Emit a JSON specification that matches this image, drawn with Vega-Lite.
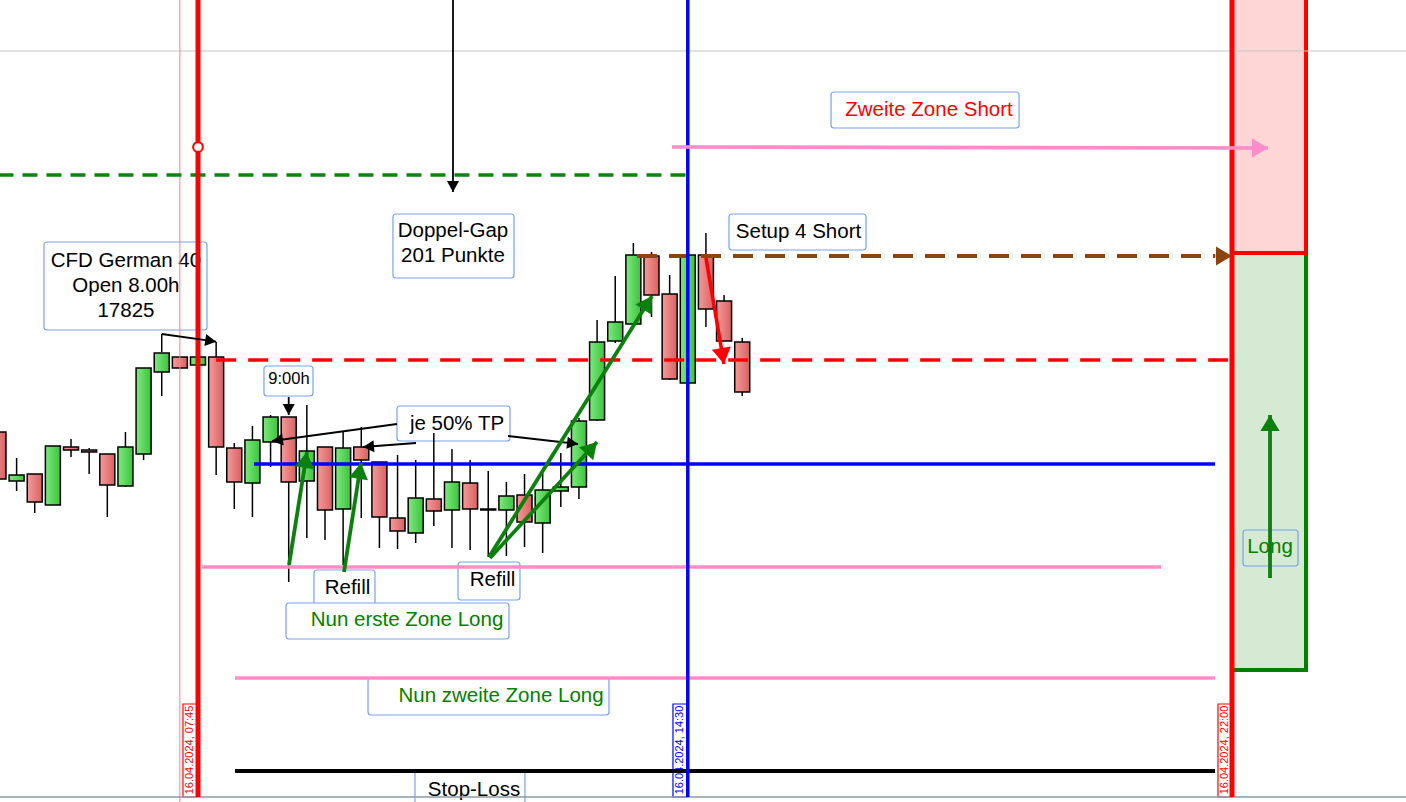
{
"$schema": "https://vega.github.io/schema/vega-lite/v6.json",
"width": 1406, "height": 802,
"autosize": {"type": "none"},
"padding": 0,
"background": "#ffffff",
"config": {"view": {"stroke": null}, "axis": {"disable": true}, "scale": {"continuousPadding": 0}},
"datasets": {
"candles": [
{"t":5.0,"o":17753,"h":17755,"l":17703,"c":17706},
{"t":5.25,"o":17704,"h":17727,"l":17694,"c":17710},
{"t":5.5,"o":17711,"h":17711,"l":17672,"c":17683},
{"t":5.75,"o":17680,"h":17739,"l":17680,"c":17739},
{"t":6.0,"o":17738,"h":17746,"l":17728,"c":17735},
{"t":6.25,"o":17735,"h":17737,"l":17711,"c":17733},
{"t":6.5,"o":17731,"h":17731,"l":17668,"c":17700},
{"t":6.75,"o":17699,"h":17753,"l":17698,"c":17738},
{"t":7.0,"o":17731,"h":17817,"l":17725,"c":17817},
{"t":7.25,"o":17813,"h":17832,"l":17789,"c":17832},
{"t":7.5,"o":17828,"h":17828,"l":17817,"c":17817},
{"t":7.75,"o":17820,"h":17828,"l":17820,"c":17828},
{"t":8.0,"o":17828,"h":17828,"l":17710,"c":17738},
{"t":8.25,"o":17737,"h":17742,"l":17676,"c":17703},
{"t":8.5,"o":17702,"h":17759,"l":17668,"c":17745},
{"t":8.75,"o":17743,"h":17770,"l":17718,"c":17768},
{"t":9.0,"o":17768,"h":17768,"l":17603,"c":17703},
{"t":9.25,"o":17704,"h":17780,"l":17647,"c":17734},
{"t":9.5,"o":17738,"h":17738,"l":17645,"c":17675},
{"t":9.75,"o":17676,"h":17753,"l":17620,"c":17737},
{"t":10.0,"o":17738,"h":17758,"l":17667,"c":17725},
{"t":10.25,"o":17723,"h":17723,"l":17637,"c":17668},
{"t":10.5,"o":17667,"h":17730,"l":17636,"c":17654},
{"t":10.75,"o":17652,"h":17725,"l":17642,"c":17687},
{"t":11.0,"o":17686,"h":17752,"l":17659,"c":17674},
{"t":11.25,"o":17675,"h":17736,"l":17637,"c":17703},
{"t":11.5,"o":17702,"h":17725,"l":17635,"c":17676},
{"t":11.75,"o":17676,"h":17714,"l":17628,"c":17675},
{"t":12.0,"o":17675,"h":17703,"l":17629,"c":17689},
{"t":12.25,"o":17690,"h":17711,"l":17638,"c":17663},
{"t":12.5,"o":17662,"h":17712,"l":17632,"c":17695},
{"t":12.75,"o":17694,"h":17732,"l":17678,"c":17698},
{"t":13.0,"o":17698,"h":17767,"l":17686,"c":17764},
{"t":13.25,"o":17765,"h":17865,"l":17764,"c":17843},
{"t":13.5,"o":17844,"h":17909,"l":17842,"c":17863},
{"t":13.75,"o":17861,"h":17942,"l":17861,"c":17930},
{"t":14.0,"o":17929,"h":17933,"l":17868,"c":17890},
{"t":14.25,"o":17891,"h":17910,"l":17805,"c":17806},
{"t":14.5,"o":17802,"h":17930,"l":17802,"c":17930},
{"t":14.75,"o":17930,"h":17952,"l":17858,"c":17876},
{"t":15.0,"o":17884,"h":17890,"l":17844,"c":17844},
{"t":15.25,"o":17843,"h":17847,"l":17789,"c":17793}
],
"zones": [
{"t":22.0,"t2":23.02,"p":17932,"p2":17515,"kind":"g"},
{"t":22.0,"t2":23.02,"p":18190,"p2":17932,"kind":"r"}
],
"boxes": [
{"t":5.627,"t2":7.874,"p":17943,"p2":17855,"kind":"n"},
{"t":10.437,"t2":12.105,"p":17971,"p2":17907,"kind":"n"},
{"t":16.474,"t2":19.065,"p":18093,"p2":18057,"kind":"n"},
{"t":15.068,"t2":16.956,"p":17971,"p2":17935,"kind":"n"},
{"t":8.659,"t2":9.335,"p":17819,"p2":17789,"kind":"n"},
{"t":10.492,"t2":12.05,"p":17779,"p2":17744,"kind":"n"},
{"t":9.348,"t2":10.189,"p":17615,"p2":17578,"kind":"n"},
{"t":11.333,"t2":12.187,"p":17623,"p2":17585,"kind":"n"},
{"t":8.963,"t2":12.036,"p":17582,"p2":17546,"kind":"n"},
{"t":10.093,"t2":13.414,"p":17507,"p2":17470,"kind":"n"},
{"t":10.74,"t2":12.256,"p":17414,"p2":17370,"kind":"n"},
{"t":22.152,"t2":22.91,"p":17655,"p2":17619,"kind":"c"},
{"t":7.543,"t2":7.736,"p":17481,"p2":17388,"kind":"d","col":"r"},
{"t":14.296,"t2":14.489,"p":17481,"p2":17388,"kind":"d","col":"b"},
{"t":21.807,"t2":22.0,"p":17481,"p2":17388,"kind":"d","col":"r"}
],
"texts": [
{"t":6.757,"p":17924,"label":"CFD German 40\nOpen 8.00h\n17825","col":"k","grp":"main"},
{"t":11.264,"p":17954,"label":"Doppel-Gap\n201 Punkte","col":"k","grp":"main"},
{"t":17.824,"p":18075,"label":"Zweite Zone Short","col":"r","grp":"main"},
{"t":16.026,"p":17953,"label":"Setup 4 Short","col":"k","grp":"main"},
{"t":11.319,"p":17761,"label":"je 50% TP","col":"k","grp":"main"},
{"t":9.81,"p":17597,"label":"Refill","col":"k","grp":"main"},
{"t":11.809,"p":17605,"label":"Refill","col":"k","grp":"main"},
{"t":10.63,"p":17565,"label":"Nun erste Zone Long","col":"g","grp":"main"},
{"t":11.926,"p":17489,"label":"Nun zweite Zone Long","col":"g","grp":"main"},
{"t":11.554,"p":17395,"label":"Stop-Loss","col":"k","grp":"main"},
{"t":22.524,"p":17638,"label":"Long","col":"g","grp":"main"},
{"t":9.004,"p":17806,"label":"9:00h","col":"k","grp":"small"},
{"t":7.639,"p":17435,"label":"16.04.2024, 07:45","col":"r","grp":"date"},
{"t":14.392,"p":17435,"label":"16.04.2024, 14:30","col":"b","grp":"date"},
{"t":21.903,"p":17435,"label":"16.04.2024, 22:00","col":"r","grp":"date"}
],
"lines": [
{"t":5.0,"p":18134,"t2":24.5,"p2":18134,"kind":"gray"},
{"t":7.5,"p":18190,"t2":7.5,"p2":17380,"kind":"vPink"},
{"t":5.0,"p":17388,"t2":24.5,"p2":17388,"kind":"bottom"},
{"t":5.0,"p":18010,"t2":14.5,"p2":18010,"kind":"greenDash"},
{"t":13.8,"p":17929,"t2":21.77,"p2":17929,"kind":"brownDash"},
{"t":8.0,"p":17825,"t2":21.945,"p2":17825,"kind":"redDash"},
{"t":8.522,"p":17721,"t2":21.766,"p2":17721,"kind":"blue"},
{"t":7.805,"p":17618,"t2":21.022,"p2":17618,"kind":"pink"},
{"t":8.26,"p":17507,"t2":21.766,"p2":17507,"kind":"pink"},
{"t":8.26,"p":17414,"t2":21.766,"p2":17414,"kind":"black"},
{"t":7.25,"p":17833,"t2":7.25,"p2":17851,"kind":"blackThin"},
{"t":8.0,"p":17843,"t2":8.0,"p2":17828,"kind":"blackThin"},
{"t":7.75,"p":18190,"t2":7.75,"p2":17388,"kind":"vRed"},
{"t":22.0,"p":18190,"t2":22.0,"p2":17388,"kind":"vRed"},
{"t":14.5,"p":18190,"t2":14.5,"p2":17388,"kind":"vBlue"}
],
"arrows": [
{"t":11.264,"p":18190,"t2":11.264,"p2":17993,"a":180,"kind":"black"},
{"t":7.25,"p":17851,"t2":8.0,"p2":17843.3,"a":98.4,"kind":"black"},
{"t":9.0,"p":17788,"t2":9.0,"p2":17770,"a":180,"kind":"black"},
{"t":10.492,"p":17761,"t2":8.77,"p2":17744,"a":262.3,"kind":"black"},
{"t":10.754,"p":17742,"t2":10.024,"p2":17738,"a":265.7,"kind":"black"},
{"t":12.022,"p":17749,"t2":12.987,"p2":17741,"a":96.5,"kind":"black"},
{"t":9.004,"p":17620,"t2":9.252,"p2":17733,"a":9.05,"kind":"green"},
{"t":9.762,"p":17613,"t2":9.996,"p2":17722,"a":8.9,"kind":"green"},
{"t":11.76,"p":17628,"t2":14.007,"p2":17889,"a":32.0,"kind":"green"},
{"t":11.774,"p":17627,"t2":13.249,"p2":17743,"a":42.7,"kind":"green"},
{"t":22.524,"p":17607,"t2":22.524,"p2":17770,"a":0,"kind":"green"},
{"t":14.751,"p":17927,"t2":14.999,"p2":17821,"a":170.4,"kind":"red"},
{"t":14.282,"p":18038,"t2":22.496,"p2":18037,"a":90,"kind":"pink"},
{"t":22.0,"p":17929,"t2":22.0,"p2":17929,"a":90,"kind":"brown"}
]
},
"encoding": {
"x": {"field": "t", "type": "quantitative", "scale": {"domain": [5.0212, 24.398], "nice": false, "zero": false, "padding": 0}, "axis": null},
"y": {"field": "p", "type": "quantitative", "scale": {"domain": [17383, 18185], "nice": false, "zero": false, "padding": 0}, "axis": null}
},
"layer": [
{"data": {"name": "zones"}, "transform": [{"filter": "datum.kind == 'g'"}],
 "mark": {"type": "rect", "fill": "#d5e9d3", "stroke": "#008000", "strokeWidth": 4},
 "encoding": {"x2": {"field": "t2"}, "y2": {"field": "p2"}}},
{"data": {"name": "zones"}, "transform": [{"filter": "datum.kind == 'r'"}],
 "mark": {"type": "rect", "fill": "#ffd6d6", "stroke": "#ff0000", "strokeWidth": 4},
 "encoding": {"x2": {"field": "t2"}, "y2": {"field": "p2"}}},
{"data": {"name": "boxes"}, "transform": [{"filter": "datum.kind == 'n'"}],
 "mark": {"type": "rect", "fill": "#ffffff", "stroke": "#7aa2ee", "strokeWidth": 1.2, "cornerRadius": 3},
 "encoding": {"x2": {"field": "t2"}, "y2": {"field": "p2"}}},
{"data": {"name": "boxes"}, "transform": [{"filter": "datum.kind == 'c'"}],
 "mark": {"type": "rect", "fill": null, "fillOpacity": 0, "stroke": "#7aa2ee", "strokeWidth": 1.2, "cornerRadius": 3},
 "encoding": {"x2": {"field": "t2"}, "y2": {"field": "p2"}}},
{"data": {"name": "boxes"}, "transform": [{"filter": "datum.kind == 'd' && datum.col == 'r'"}],
 "mark": {"type": "rect", "fill": "#ffffff", "stroke": "#ff0000", "strokeWidth": 1.2},
 "encoding": {"x2": {"field": "t2"}, "y2": {"field": "p2"}}},
{"data": {"name": "boxes"}, "transform": [{"filter": "datum.kind == 'd' && datum.col == 'b'"}],
 "mark": {"type": "rect", "fill": "#ffffff", "stroke": "#0000ff", "strokeWidth": 1.2},
 "encoding": {"x2": {"field": "t2"}, "y2": {"field": "p2"}}},
{"data": {"name": "texts"}, "transform": [{"filter": "datum.grp == 'main' && datum.col == 'k'"}],
 "mark": {"type": "text", "font": "Liberation Sans", "fontSize": 20.5, "lineBreak": "\n", "lineHeight": 25, "align": "center", "baseline": "middle", "color": "#000000"},
 "encoding": {"text": {"field": "label"}}},
{"data": {"name": "texts"}, "transform": [{"filter": "datum.grp == 'main' && datum.col == 'g'"}],
 "mark": {"type": "text", "font": "Liberation Sans", "fontSize": 20.5, "align": "center", "baseline": "middle", "color": "#008000"},
 "encoding": {"text": {"field": "label"}}},
{"data": {"name": "texts"}, "transform": [{"filter": "datum.grp == 'main' && datum.col == 'r'"}],
 "mark": {"type": "text", "font": "Liberation Sans", "fontSize": 20.5, "align": "center", "baseline": "middle", "color": "#ff0000"},
 "encoding": {"text": {"field": "label"}}},
{"data": {"name": "texts"}, "transform": [{"filter": "datum.grp == 'small'"}],
 "mark": {"type": "text", "font": "Liberation Sans", "fontSize": 16.5, "align": "center", "baseline": "middle", "color": "#000000"},
 "encoding": {"text": {"field": "label"}}},
{"data": {"name": "texts"}, "transform": [{"filter": "datum.grp == 'date' && datum.col == 'r'"}],
 "mark": {"type": "text", "font": "Liberation Sans", "fontSize": 11, "angle": 270, "align": "center", "baseline": "middle", "color": "#ff0000"},
 "encoding": {"text": {"field": "label"}}},
{"data": {"name": "texts"}, "transform": [{"filter": "datum.grp == 'date' && datum.col == 'b'"}],
 "mark": {"type": "text", "font": "Liberation Sans", "fontSize": 11, "angle": 270, "align": "center", "baseline": "middle", "color": "#0000ff"},
 "encoding": {"text": {"field": "label"}}},
{"data": {"name": "candles"},
 "mark": {"type": "rule", "color": "#000000", "strokeWidth": 1.5},
 "encoding": {"y": {"field": "h", "type": "quantitative", "scale": {"domain": [17383, 18185], "nice": false, "zero": false, "padding": 0}, "axis": null}, "y2": {"field": "l"}}},
{"data": {"name": "candles"}, "transform": [{"filter": "datum.c >= datum.o"}],
 "mark": {"type": "bar", "size": 15, "stroke": "#000000", "strokeWidth": 1.5,
  "fill": {"gradient": "linear", "x1": 0, "y1": 0, "x2": 1, "y2": 0, "stops": [{"offset": 0, "color": "#7ee87e"}, {"offset": 1, "color": "#3cc43c"}]}},
 "encoding": {"y": {"field": "o", "type": "quantitative", "scale": {"domain": [17383, 18185], "nice": false, "zero": false, "padding": 0}, "axis": null}, "y2": {"field": "c"}}},
{"data": {"name": "candles"}, "transform": [{"filter": "datum.c < datum.o"}],
 "mark": {"type": "bar", "size": 15, "stroke": "#000000", "strokeWidth": 1.5,
  "fill": {"gradient": "linear", "x1": 0, "y1": 0, "x2": 1, "y2": 0, "stops": [{"offset": 0, "color": "#f59a9a"}, {"offset": 1, "color": "#d86262"}]}},
 "encoding": {"y": {"field": "o", "type": "quantitative", "scale": {"domain": [17383, 18185], "nice": false, "zero": false, "padding": 0}, "axis": null}, "y2": {"field": "c"}}},
{"data": {"name": "lines"}, "transform": [{"filter": "datum.kind == 'gray'"}],
 "mark": {"type": "rule", "strokeWidth": 1, "color": "#c4c4c4"},
 "encoding": {"x2": {"field": "t2"}, "y2": {"field": "p2"}}},
{"data": {"name": "lines"}, "transform": [{"filter": "datum.kind == 'vPink'"}],
 "mark": {"type": "rule", "strokeWidth": 1, "color": "#ff8080"},
 "encoding": {"x2": {"field": "t2"}, "y2": {"field": "p2"}}},
{"data": {"name": "lines"}, "transform": [{"filter": "datum.kind == 'bottom'"}],
 "mark": {"type": "rule", "strokeWidth": 1.5, "color": "#8a9aa8"},
 "encoding": {"x2": {"field": "t2"}, "y2": {"field": "p2"}}},
{"data": {"name": "lines"}, "transform": [{"filter": "datum.kind == 'greenDash'"}],
 "mark": {"type": "rule", "strokeWidth": 3.5, "color": "#0d850d", "strokeDash": [15, 9]},
 "encoding": {"x2": {"field": "t2"}, "y2": {"field": "p2"}}},
{"data": {"name": "lines"}, "transform": [{"filter": "datum.kind == 'brownDash'"}],
 "mark": {"type": "rule", "strokeWidth": 4, "color": "#8b4513", "strokeDash": [20, 12]},
 "encoding": {"x2": {"field": "t2"}, "y2": {"field": "p2"}}},
{"data": {"name": "lines"}, "transform": [{"filter": "datum.kind == 'redDash'"}],
 "mark": {"type": "rule", "strokeWidth": 3.5, "color": "#ff0000", "strokeDash": [20, 12]},
 "encoding": {"x2": {"field": "t2"}, "y2": {"field": "p2"}}},
{"data": {"name": "lines"}, "transform": [{"filter": "datum.kind == 'blue'"}],
 "mark": {"type": "rule", "strokeWidth": 3.6, "color": "#0000ff"},
 "encoding": {"x2": {"field": "t2"}, "y2": {"field": "p2"}}},
{"data": {"name": "lines"}, "transform": [{"filter": "datum.kind == 'pink'"}],
 "mark": {"type": "rule", "strokeWidth": 3.4, "color": "#ff8cc8"},
 "encoding": {"x2": {"field": "t2"}, "y2": {"field": "p2"}}},
{"data": {"name": "lines"}, "transform": [{"filter": "datum.kind == 'black'"}],
 "mark": {"type": "rule", "strokeWidth": 4, "color": "#000000"},
 "encoding": {"x2": {"field": "t2"}, "y2": {"field": "p2"}}},
{"data": {"name": "lines"}, "transform": [{"filter": "datum.kind == 'blackThin'"}],
 "mark": {"type": "rule", "strokeWidth": 1.5, "color": "#000000"},
 "encoding": {"x2": {"field": "t2"}, "y2": {"field": "p2"}}},
{"data": {"name": "lines"}, "transform": [{"filter": "datum.kind == 'vRed'"}],
 "mark": {"type": "rule", "strokeWidth": 5, "color": "#ff0000"},
 "encoding": {"x2": {"field": "t2"}, "y2": {"field": "p2"}}},
{"data": {"name": "lines"}, "transform": [{"filter": "datum.kind == 'vBlue'"}],
 "mark": {"type": "rule", "strokeWidth": 3.5, "color": "#0000ff"},
 "encoding": {"x2": {"field": "t2"}, "y2": {"field": "p2"}}},
{"data": {"name": "arrows"}, "transform": [{"filter": "datum.kind == 'black'"}],
 "mark": {"type": "rule", "strokeWidth": 1.8, "color": "#000000"},
 "encoding": {"x2": {"field": "t2"}, "y2": {"field": "p2"}}},
{"data": {"name": "arrows"}, "transform": [{"filter": "datum.kind == 'green'"}],
 "mark": {"type": "rule", "strokeWidth": 3.8, "color": "#0c800c"},
 "encoding": {"x2": {"field": "t2"}, "y2": {"field": "p2"}}},
{"data": {"name": "arrows"}, "transform": [{"filter": "datum.kind == 'red'"}],
 "mark": {"type": "rule", "strokeWidth": 3.6, "color": "#ff0000"},
 "encoding": {"x2": {"field": "t2"}, "y2": {"field": "p2"}}},
{"data": {"name": "arrows"}, "transform": [{"filter": "datum.kind == 'pink'"}],
 "mark": {"type": "rule", "strokeWidth": 3.6, "color": "#ff8cc8"},
 "encoding": {"x2": {"field": "t2"}, "y2": {"field": "p2"}}},
{"data": {"name": "arrows"}, "transform": [{"filter": "datum.kind == 'black'"}],
 "mark": {"type": "point", "shape": "M0,0L-0.55,1L0.55,1Z", "size": 484, "filled": true, "opacity": 1, "strokeWidth": 0, "color": "#000000"},
 "encoding": {
  "x": {"field": "t2", "type": "quantitative", "scale": {"domain": [5.0212, 24.398], "nice": false, "zero": false, "padding": 0}, "axis": null},
  "y": {"field": "p2", "type": "quantitative", "scale": {"domain": [17383, 18185], "nice": false, "zero": false, "padding": 0}, "axis": null},
  "angle": {"field": "a", "type": "quantitative", "scale": null}}},
{"data": {"name": "arrows"}, "transform": [{"filter": "datum.kind == 'green'"}],
 "mark": {"type": "point", "shape": "M0,0L-0.6,1L0.6,1Z", "size": 1024, "filled": true, "opacity": 1, "strokeWidth": 0, "color": "#0c800c"},
 "encoding": {
  "x": {"field": "t2", "type": "quantitative", "scale": {"domain": [5.0212, 24.398], "nice": false, "zero": false, "padding": 0}, "axis": null},
  "y": {"field": "p2", "type": "quantitative", "scale": {"domain": [17383, 18185], "nice": false, "zero": false, "padding": 0}, "axis": null},
  "angle": {"field": "a", "type": "quantitative", "scale": null}}},
{"data": {"name": "arrows"}, "transform": [{"filter": "datum.kind == 'red'"}],
 "mark": {"type": "point", "shape": "M0,0L-0.6,1L0.6,1Z", "size": 1024, "filled": true, "opacity": 1, "strokeWidth": 0, "color": "#ff0000"},
 "encoding": {
  "x": {"field": "t2", "type": "quantitative", "scale": {"domain": [5.0212, 24.398], "nice": false, "zero": false, "padding": 0}, "axis": null},
  "y": {"field": "p2", "type": "quantitative", "scale": {"domain": [17383, 18185], "nice": false, "zero": false, "padding": 0}, "axis": null},
  "angle": {"field": "a", "type": "quantitative", "scale": null}}},
{"data": {"name": "arrows"}, "transform": [{"filter": "datum.kind == 'pink'"}],
 "mark": {"type": "point", "shape": "M0,0L-0.6,1L0.6,1Z", "size": 1024, "filled": true, "opacity": 1, "strokeWidth": 0, "color": "#ff8cc8"},
 "encoding": {
  "x": {"field": "t2", "type": "quantitative", "scale": {"domain": [5.0212, 24.398], "nice": false, "zero": false, "padding": 0}, "axis": null},
  "y": {"field": "p2", "type": "quantitative", "scale": {"domain": [17383, 18185], "nice": false, "zero": false, "padding": 0}, "axis": null},
  "angle": {"field": "a", "type": "quantitative", "scale": null}}},
{"data": {"name": "arrows"}, "transform": [{"filter": "datum.kind == 'brown'"}],
 "mark": {"type": "point", "shape": "M0,0L-0.6,1L0.6,1Z", "size": 1024, "filled": true, "opacity": 1, "strokeWidth": 0, "color": "#8b4513"},
 "encoding": {
  "x": {"field": "t2", "type": "quantitative", "scale": {"domain": [5.0212, 24.398], "nice": false, "zero": false, "padding": 0}, "axis": null},
  "y": {"field": "p2", "type": "quantitative", "scale": {"domain": [17383, 18185], "nice": false, "zero": false, "padding": 0}, "axis": null},
  "angle": {"field": "a", "type": "quantitative", "scale": null}}},
{"data": {"values": [{"t": 7.75, "p": 18038}]},
 "mark": {"type": "point", "shape": "circle", "size": 95, "filled": true, "fill": "#ffffff", "stroke": "#ff0000", "strokeWidth": 2, "opacity": 1}}
]
}
